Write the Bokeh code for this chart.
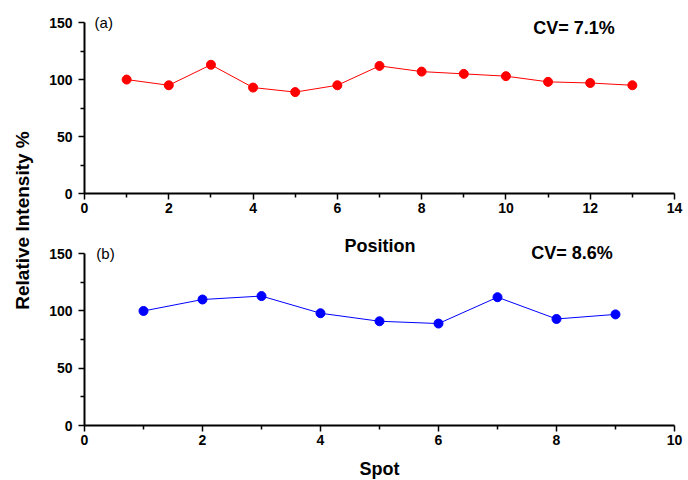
import math
from bokeh.plotting import figure
from bokeh.models import Range1d, FixedTicker, Label
from bokeh.layouts import row, column
from bokeh.embed import file_html
from bokeh.resources import INLINE

# ---- data ----
position = [1, 2, 3, 4, 5, 6, 7, 8, 9, 10, 11, 12, 13]
intensity_a = [100, 95, 113, 93, 89, 95, 112, 107, 105, 103, 98, 97, 95]
spot = [1, 2, 3, 4, 5, 6, 7, 8, 9]
intensity_b = [100, 110, 113, 98, 91, 89, 112, 93, 97]

y_ticks = [0, 50, 100, 150]
y_minor = [25, 75, 125]
xa_ticks = [0, 2, 4, 6, 8, 10, 12, 14]
xa_minor = [1, 3, 5, 7, 9, 11, 13]
xb_ticks = [0, 2, 4, 6, 8, 10]
xb_minor = [1, 3, 5, 7, 9]

FONT = "Liberation Sans"


def style(p, xt, xm):
    p.outline_line_color = None
    p.xgrid.visible = False
    p.ygrid.visible = False
    p.xaxis.ticker = FixedTicker(ticks=xt, minor_ticks=xm)
    p.yaxis.ticker = FixedTicker(ticks=y_ticks, minor_ticks=y_minor)
    p.yaxis.bounds = (0, 150)
    for ax in (p.xaxis[0], p.yaxis[0]):
        ax.axis_line_width = 2
        ax.axis_line_color = "black"
        ax.major_tick_in = 0
        ax.major_tick_out = 6
        ax.minor_tick_in = 0
        ax.minor_tick_out = 4
        ax.major_tick_line_width = 1.5
        ax.minor_tick_line_width = 1.5
        ax.major_label_text_font = FONT
        ax.major_label_text_font_style = "bold"
        ax.major_label_text_font_size = "14px"
        ax.major_label_text_color = "black"
        ax.axis_label_text_font = FONT
        ax.axis_label_text_font_style = "bold"
        ax.axis_label_text_font_size = "18px"
        ax.axis_label_text_color = "black"
    p.xaxis.major_label_standoff = 3
    p.yaxis.major_label_standoff = 6


def txt(p, x, y, s, bold=False, size="15px", align="left"):
    p.add_layout(Label(x=x, y=y, text=s, text_font=FONT,
                       text_font_style="bold" if bold else "normal",
                       text_font_size=size, text_align=align,
                       text_baseline="middle", text_color="black"))


# ---- top panel (a) ----
pa = figure(frame_width=590, frame_height=180, min_border_left=49, min_border_right=14,
            min_border_top=13, min_border_bottom=43,
            x_range=Range1d(0, 14), y_range=Range1d(0, 158),
            output_backend="svg", toolbar_location=None)
style(pa, xa_ticks, xa_minor)
pa.line(position, intensity_a, line_color="#FF0000", line_width=1)
pa.scatter(position, intensity_a, size=9, fill_color="#FF0000", line_color="#FF0000")
txt(pa, 0.24, 150, "(a)")
txt(pa, 10.65, 145.6, "CV= 7.1%", bold=True, size="18px")

# ---- bottom panel (b) ----
pb = figure(frame_width=590, frame_height=189, min_border_left=49, min_border_right=14,
            min_border_top=0, min_border_bottom=55,
            x_range=Range1d(0, 10), y_range=Range1d(0, 165),
            output_backend="svg", toolbar_location=None)
style(pb, xb_ticks, xb_minor)
pb.xaxis.axis_label = "Spot"
pb.xaxis.axis_label_standoff = 11
pb.line(spot, intensity_b, line_color="#0000FF", line_width=1)
pb.scatter(spot, intensity_b, size=9, fill_color="#0000FF", line_color="#0000FF")
txt(pb, 0.2, 150, "(b)")
txt(pb, 7.57, 150.6, "CV= 8.6%", bold=True, size="18px")
txt(pb, 5.01, 156.7, "Position", bold=True, size="18px", align="center")

# ---- shared y label ----
pl = figure(width=35, height=480, min_border=0, x_range=Range1d(0, 35), y_range=Range1d(0, 480),
            output_backend="svg", toolbar_location=None)
pl.axis.visible = False
pl.grid.visible = False
pl.outline_line_color = None
pl.add_layout(Label(x=22, y=260, text="Relative Intensity %", angle=math.pi / 2,
                    text_font=FONT, text_font_style="bold", text_font_size="19px",
                    text_align="center", text_baseline="middle", text_color="black"))

layout = row(pl, column(pa, pb))
open("out.html", "w").write(file_html(layout, INLINE))
